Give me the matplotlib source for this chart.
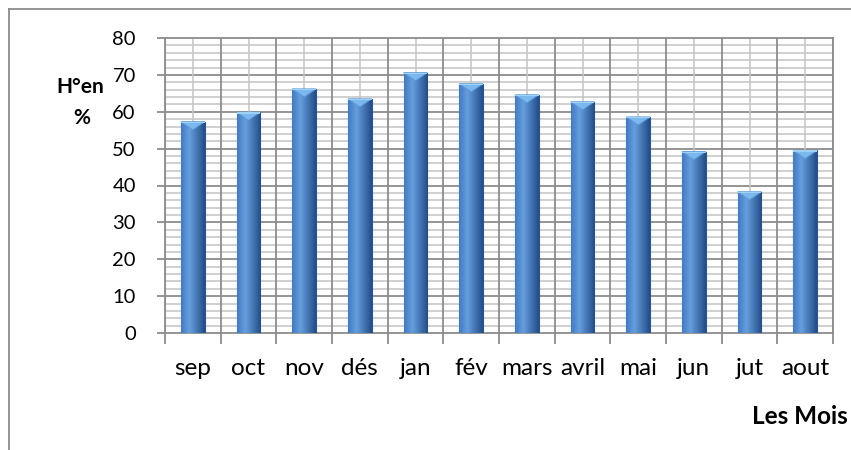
import numpy as np
import matplotlib
matplotlib.use("Agg")
import matplotlib.pyplot as plt
from matplotlib.lines import Line2D
from matplotlib.patches import Polygon

months = ["sep", "oct", "nov", "dés", "jan", "fév", "mars", "avril", "mai", "jun", "jut", "aout"]
humidity = [57.3, 59.9, 66.2, 63.5, 70.6, 67.6, 64.6, 62.7, 58.6, 49.2, 38.3, 49.5]
y_ticks = [0, 10, 20, 30, 40, 50, 60, 70, 80]
x_label = "Les Mois"

plt.rcParams['font.family'] = ['Lato', 'DejaVu Sans']

fig = plt.figure(figsize=(8.51, 4.5), dpi=100)
fig.patch.set_facecolor('white')
ax = fig.add_axes([165/851, 1-333/450, (833-165)/851, (333-38)/450])

n = len(months)
x = np.arange(n)
ax.set_xlim(-0.5, n-0.5)
ax.set_ylim(0, 80)

# grid
for yv in np.arange(2, 80, 2):
    major = (yv % 10 == 0)
    ax.axhline(yv, color='#8c8c8c' if major else '#c4c4c4', lw=1.3 if major else 1.1, zorder=0)
for xv in np.arange(-0.5, n, 1):
    ax.axvline(xv, color='#8c8c8c', lw=1.3, zorder=0)
for xv in x:
    ax.axvline(xv, color='#c4c4c4', lw=1.1, zorder=0)

width = 0.43
bars = ax.bar(x, humidity, width=width, color='#3a6fb5', edgecolor='#2a5590', lw=0.8, zorder=3)

# cylinder-like horizontal gradient
grad = np.linspace(0, 1, 64)
base = np.array([0x42, 0x7a, 0xc4]) / 255.0
light = np.array([0x66, 0x9e, 0xde]) / 255.0
dark = np.array([0x22, 0x4e, 0x8a]) / 255.0
cols = []
for t in grad:
    if t < 0.35:
        c = base + (light - base) * (t/0.35)
    else:
        c = light + (dark - light) * ((t-0.35)/0.65)
    cols.append(c)
img = np.array(cols)[None, :, :]
for b, v in zip(bars, humidity):
    x0 = b.get_x()
    im = ax.imshow(img, extent=[x0, x0+width, 0, v], aspect='auto', zorder=3.5, interpolation='bilinear')
    im.set_clip_path(b)
    cap_h = 2.2
    tri = Polygon([[x0, v], [x0+width, v], [x0+width/2, v-cap_h]], closed=True,
                  facecolor='#7ab8ee', edgecolor='#5a9ad8', lw=0.6, zorder=4)
    ax.add_patch(tri)
    ax.add_patch(Polygon([[x0, v], [x0+width, v], [x0+width, v-0.4], [x0, v-0.4]], closed=True,
                         facecolor='#9fd0f5', edgecolor='none', zorder=4.1))
ax.set_xlim(-0.5, n-0.5)
ax.set_ylim(0, 80)

for s in ax.spines.values():
    s.set_color('#8c8c8c')
    s.set_linewidth(1.3)

ax.set_yticks(y_ticks)
ax.set_yticklabels([str(v) for v in y_ticks], fontsize=14.5)
ax.set_xticks(x)
ax.set_xticklabels(months, fontsize=17.5)
ax.set_xticks(np.arange(-0.5, n, 1), minor=True)
ax.tick_params(axis='x', which='major', length=0, pad=18)
ax.tick_params(axis='x', which='minor', length=8, color='#8c8c8c', width=1.3)
ax.tick_params(axis='y', length=6, color='#8c8c8c', width=1.3, pad=15)

fig.text(80/851, 1-87/450, "H°en", fontsize=15, fontweight='bold', ha='center', va='center')
fig.text(82/851, 1-118/450, "%", fontsize=15, fontweight='bold', ha='center', va='center')
fig.text(848/851, 1-424/450, x_label, fontsize=17.5, fontweight='bold', ha='right', va='baseline')

# outer chart frame (partially cropped)
fig.add_artist(Line2D([9/851, 9/851], [0, 1-9/450], transform=fig.transFigure, color='#8c8c8c', lw=1.3))
fig.add_artist(Line2D([9/851, 1], [1-9/450, 1-9/450], transform=fig.transFigure, color='#8c8c8c', lw=1.3))

fig.savefig('out.png', dpi=100, facecolor='white')
